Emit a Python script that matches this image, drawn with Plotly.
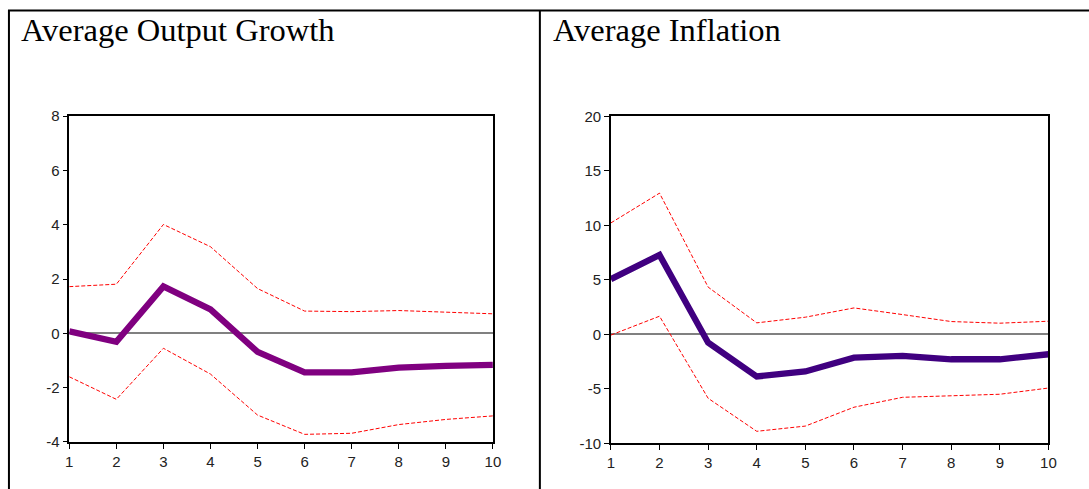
import plotly.graph_objects as go

periods = [1, 2, 3, 4, 5, 6, 7, 8, 9, 10]

growth_mid = [0.07, -0.31, 1.73, 0.88, -0.68, -1.44, -1.44, -1.26, -1.20, -1.16]
growth_up = [1.72, 1.81, 4.01, 3.19, 1.65, 0.82, 0.80, 0.84, 0.78, 0.72]
growth_lo = [-1.60, -2.43, -0.55, -1.50, -3.01, -3.72, -3.68, -3.36, -3.17, -3.04]

infl_mid = [5.07, 7.29, -0.76, -3.86, -3.40, -2.13, -1.97, -2.28, -2.28, -1.82]
infl_up = [10.23, 12.96, 4.34, 1.06, 1.58, 2.43, 1.82, 1.18, 1.03, 1.21]
infl_lo = [-0.06, 1.67, -5.86, -8.89, -8.41, -6.68, -5.77, -5.65, -5.49, -4.92]

titles = ["Average Output Growth", "Average Inflation"]
growth_ticks = [-4, -2, 0, 2, 4, 6, 8]
growth_ticktext = ["-4", "-2", "0", "2", "4", "6", "8"]
infl_ticks = [-10, -5, 0, 5, 10, 15, 20]
infl_ticktext = ["-10", "-5", "0", "5", "10", "15", "20"]
period_ticktext = ["1", "2", "3", "4", "5", "6", "7", "8", "9", "10"]

W, H = 1098, 500

fig = go.Figure()

band = dict(color="#FF0000", width=1, dash="4px,2px")

fig.add_trace(go.Scatter(x=periods, y=growth_up, mode="lines", line=band, xaxis="x", yaxis="y"))
fig.add_trace(go.Scatter(x=periods, y=growth_lo, mode="lines", line=band, xaxis="x", yaxis="y"))
fig.add_trace(go.Scatter(x=periods, y=growth_mid, mode="lines", line=dict(color="#800080", width=6.3), xaxis="x", yaxis="y"))

fig.add_trace(go.Scatter(x=periods, y=infl_up, mode="lines", line=band, xaxis="x2", yaxis="y2"))
fig.add_trace(go.Scatter(x=periods, y=infl_lo, mode="lines", line=band, xaxis="x2", yaxis="y2"))
fig.add_trace(go.Scatter(x=periods, y=infl_mid, mode="lines", line=dict(color="#400080", width=6.3), xaxis="x2", yaxis="y2"))

tickfont = dict(family="Liberation Sans, Arial, sans-serif", size=15, color="#222222")

def xax(domain):
    return dict(domain=domain, range=[1, 10], tickvals=periods, ticktext=period_ticktext,
                showline=True, mirror=True,
                linecolor="black", linewidth=1.5, ticks="outside", ticklen=5, tickcolor="black",
                tickwidth=1, showgrid=False, zeroline=False, tickfont=tickfont, fixedrange=True)

def yax(domain, rng, ticks, labels, anchor):
    return dict(domain=domain, range=rng, tickvals=ticks, ticktext=labels, showline=True, mirror=True,
                linecolor="black", linewidth=1.5, ticks="outside", ticklen=5, tickcolor="black",
                tickwidth=1, showgrid=False, zeroline=True, zerolinecolor="#808080",
                zerolinewidth=1.5, tickfont=tickfont, anchor=anchor, fixedrange=True)

def px(v):
    return v / W

def py(v):
    return 1 - v / H

fig.update_layout(
    width=W, height=H,
    margin=dict(l=0, r=0, t=0, b=0),
    paper_bgcolor="white", plot_bgcolor="white",
    showlegend=False,
    xaxis=dict(xax([px(66), px(494.3)]), anchor="y"),
    yaxis=yax([py(448.2), py(110.9)], [-4, 8], growth_ticks, growth_ticktext, "x"),
    xaxis2=dict(xax([px(613.6), px(1056)]), anchor="y2"),
    yaxis2=yax([py(449.7), py(111.2)], [-10, 20], infl_ticks, infl_ticktext, "x2"),
)

# frame lines
line_style = dict(color="black", width=2)
fig.add_shape(type="line", xref="paper", yref="paper", x0=px(5), x1=px(5), y0=py(1.5), y1=0, line=line_style)
fig.add_shape(type="line", xref="paper", yref="paper", x0=px(4), x1=1, y0=py(1.5), y1=py(1.5), line=line_style)
fig.add_shape(type="line", xref="paper", yref="paper", x0=px(541.8), x1=px(541.8), y0=py(1.5), y1=0, line=line_style)

title_font = dict(family="Liberation Serif, Times New Roman, serif", size=32.5, color="black")
fig.add_annotation(text=titles[0], xref="paper", yref="paper", x=px(15.5), y=py(21.5),
                   xanchor="left", yanchor="middle", showarrow=False, font=title_font)
fig.add_annotation(text=titles[1], xref="paper", yref="paper", x=px(553), y=py(21.5),
                   xanchor="left", yanchor="middle", showarrow=False, font=title_font)

fig.write_html("out.html", config={"displayModeBar": False},
               post_script="document.body.style.margin='0';")
